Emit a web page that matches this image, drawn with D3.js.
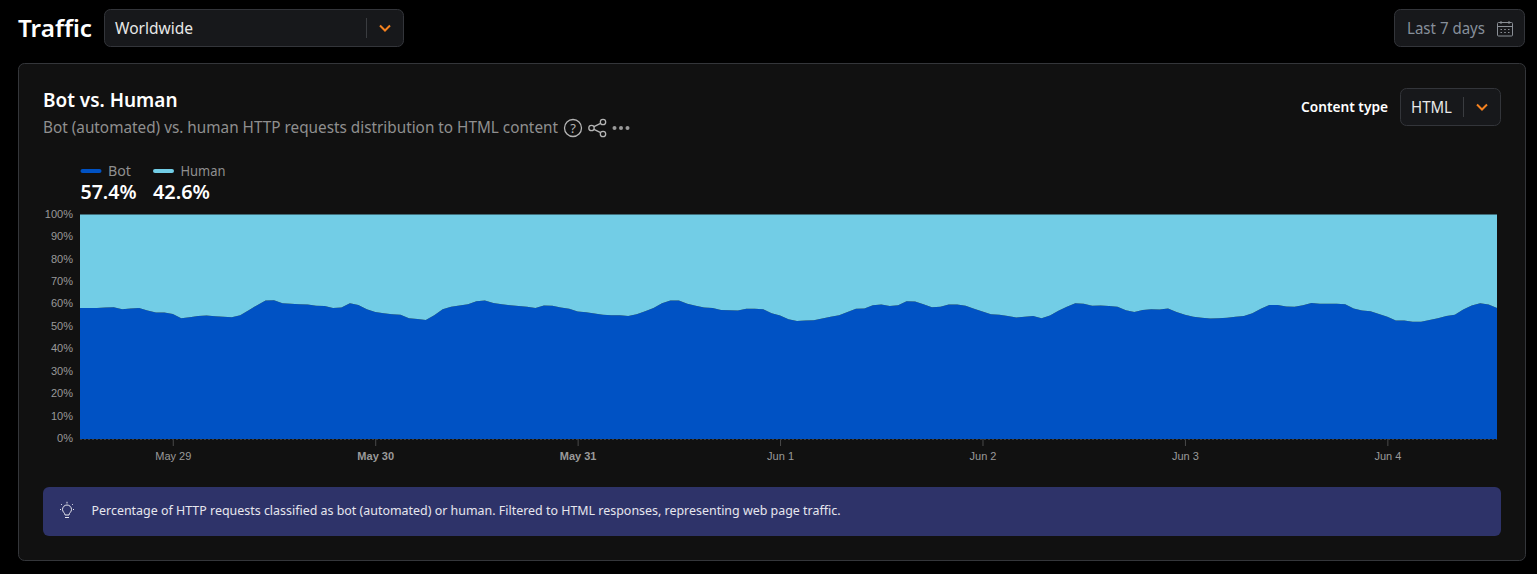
<!DOCTYPE html>
<html>
<head>
<meta charset="utf-8">
<title>Bot vs. Human</title>
<script src="https://cdn.jsdelivr.net/npm/d3@7"></script>
<style>
  html, body { margin: 0; padding: 0; background: #000; overflow: hidden; }
  svg { display: block; font-family: "Noto Sans", sans-serif; }
  .axis text { font-family: "Liberation Sans", Arial, sans-serif; font-size: 11px; fill: #9a9a9a; }
  .axis line { stroke: #4a4a4a; }
  .axis path { display: none; }
</style>
</head>
<body>
<svg id="page" width="1537" height="574"></svg>
<script>
// hourly bot share (%), starts May 28 13:00 UTC
const botShare = [
  58.4, 58.4, 58.4, 58.6, 58.7, 57.8, 58.1, 58.4, 57.2, 56.3, 56.3, 55.7, 53.8, 54.2,
  54.8, 55.0, 54.7, 54.5, 54.2, 55.1, 57.4, 59.6, 61.7, 61.8, 60.5, 60.2, 60.0, 59.9,
  59.3, 59.2, 58.3, 58.6, 60.5, 59.7, 57.8, 56.6, 56.0, 55.6, 55.3, 53.8, 53.5, 53.0,
  55.1, 57.8, 58.9, 59.5, 60.0, 61.4, 61.7, 60.6, 60.0, 59.6, 59.2, 58.9, 58.4, 59.5,
  59.3, 58.6, 58.0, 56.8, 56.5, 55.9, 55.4, 55.1, 55.1, 54.8, 55.6, 56.9, 58.3, 60.5,
  61.7, 61.7, 60.2, 59.3, 58.6, 58.4, 57.5, 57.4, 57.2, 58.0, 58.0, 57.8, 56.0, 55.0,
  53.3, 52.6, 52.8, 52.9, 53.7, 54.4, 55.1, 56.6, 58.0, 58.1, 59.6, 59.9, 59.2, 59.6,
  61.4, 61.2, 60.0, 58.7, 58.9, 59.9, 59.9, 59.3, 58.0, 56.8, 55.6, 55.4, 54.8, 54.1,
  54.4, 54.8, 53.8, 55.0, 57.1, 58.9, 60.5, 60.3, 59.3, 59.5, 59.2, 58.9, 57.4, 56.6,
  57.5, 57.8, 57.7, 58.1, 56.6, 55.4, 54.4, 54.0, 53.7, 53.8, 54.0, 54.5, 54.8, 56.0,
  58.0, 59.7, 59.7, 59.0, 58.9, 59.6, 60.6, 60.3, 60.2, 60.2, 60.0, 58.1, 57.2, 56.9,
  55.7, 54.4, 52.8, 52.8, 52.2, 52.2, 53.0, 53.8, 54.8, 55.4, 57.7, 59.5, 60.5, 59.9,
  58.3
];
const seriesNames = ['Bot', 'Human'];
const seriesTotals = ['57.4%', '42.6%'];
const seriesColors = ['#0052c4', '#72cde6'];
const yTickValues = [0, 10, 20, 30, 40, 50, 60, 70, 80, 90, 100];
const boldDays = ['May 30', 'May 31'];

const startTime = Date.UTC(2025, 4, 28, 13);
const hourMs = 3600000;

const rows = botShare.map((b, i) => ({
  time: new Date(startTime + i * hourMs),
  Bot: b,
  Human: 100 - b
}));

const svg = d3.select('#page');

// text squeezed to a measured width, the page font is not installed here
function label(x, y, str, size, color, weight, width) {
  const t = svg.append('text')
    .attr('x', x).attr('y', y)
    .attr('font-size', size)
    .attr('font-weight', weight || 400)
    .attr('fill', color)
    .text(str);
  if (width) t.attr('textLength', width).attr('lengthAdjust', 'spacingAndGlyphs');
  return t;
}

function box(x, y, w, h, r, fill, stroke) {
  return svg.append('rect')
    .attr('x', x).attr('y', y).attr('width', w).attr('height', h).attr('rx', r)
    .attr('fill', fill).attr('stroke', stroke || 'none');
}

function chevron(cx, cy) {
  svg.append('path')
    .attr('d', `M${cx - 5},${cy - 2.5}L${cx},${cy + 2.5}L${cx + 5},${cy - 2.5}`)
    .attr('fill', 'none').attr('stroke', '#f6821f').attr('stroke-width', 2);
}

// page header
label(18, 37, 'Traffic', 24, '#fff', 600, 74);
box(104.5, 9.5, 299, 37, 6, '#17181b', '#33353a');
label(115, 33.5, 'Worldwide', 16, '#e8e8e8', 400, 78);
svg.append('line').attr('x1', 366.5).attr('x2', 366.5).attr('y1', 18).attr('y2', 38).attr('stroke', '#3a3c40');
chevron(385, 28);

box(1394.5, 9.5, 130, 37, 6, '#17181b', '#33353a');
label(1407, 33.5, 'Last 7 days', 16, '#868f9a', 400, 78);
const cal = svg.append('g').attr('transform', 'translate(1497,21)').attr('fill', 'none').attr('stroke', '#8a8f96');
cal.append('rect').attr('x', 0.5).attr('y', 1.5).attr('width', 15).attr('height', 13.5).attr('rx', 1);
cal.append('path').attr('d', 'M0.5,5.5H15.5M4,0V3M12,0V3M3.5,8.5H5M7.2,8.5H8.8M11,8.5H12.5M3.5,11.5H5M7.2,11.5H8.8M11,11.5H12.5');

// card
box(18.5, 63.5, 1507, 497, 6, '#111111', '#34363a');
label(43, 107, 'Bot vs. Human', 19, '#fff', 600, 134.5);
label(43, 133, 'Bot (automated) vs. human HTTP requests distribution to HTML content', 15.5, '#8f8f8f', 400, 515);

// help, share and more icons
const ic = svg.append('g').attr('fill', 'none').attr('stroke', '#b5b5b5').attr('stroke-width', 1.3);
ic.append('circle').attr('cx', 573).attr('cy', 128).attr('r', 8.5);
label(573, 132.5, '?', 13, '#b5b5b5', 400).attr('text-anchor', 'middle');
ic.append('circle').attr('cx', 591.5).attr('cy', 128).attr('r', 2.7);
ic.append('circle').attr('cx', 603).attr('cy', 122).attr('r', 2.7);
ic.append('circle').attr('cx', 603).attr('cy', 134).attr('r', 2.7);
ic.append('path').attr('d', 'M594,126.6L600.6,123.3M594,129.4L600.6,132.7');
[614.5, 621, 627.5].forEach(cx => svg.append('circle').attr('cx', cx).attr('cy', 128).attr('r', 2).attr('fill', '#9a9a9a'));

// content type select
label(1301, 112, 'Content type', 14, '#fff', 600, 87);
box(1400.5, 88.5, 100, 37, 6, '#17181b', '#33353a');
label(1411, 112.5, 'HTML', 16, '#e8e8e8', 400, 41);
svg.append('line').attr('x1', 1463.5).attr('x2', 1463.5).attr('y1', 97).attr('y2', 117).attr('stroke', '#3a3c40');
chevron(1482, 107);

// legend
const legendX = [80.5, 153];
const legendLabelW = [23, 45];
const legendTotalW = [56, 57];
seriesNames.forEach((name, i) => {
  svg.append('rect')
    .attr('x', legendX[i]).attr('y', 169).attr('width', 21).attr('height', 4).attr('rx', 2)
    .attr('fill', seriesColors[i]);
  label(legendX[i] + 27.5, 176, name, 14, '#8f8f8f', 400, legendLabelW[i]);
  label(legendX[i], 199, seriesTotals[i], 19, '#fff', 600, legendTotalW[i]);
});

// chart
const x = d3.scaleUtc()
  .domain(d3.extent(rows, d => d.time))
  .range([80, 1497]);
const y = d3.scaleLinear().domain([0, 100]).range([439, 214.5]);

const stacked = d3.stack().keys(seriesNames)(rows);
const area = d3.area()
  .x(d => x(d.data.time))
  .y0(d => y(d[0]))
  .y1(d => y(d[1]));

svg.append('g').selectAll('path')
  .data(stacked)
  .join('path')
  .attr('d', area)
  .attr('fill', (d, i) => seriesColors[i]);

const yAxis = d3.axisLeft(y)
  .tickValues(yTickValues)
  .tickSize(0)
  .tickPadding(7)
  .tickFormat(d => d + '%');
const yg = svg.append('g').attr('class', 'axis').attr('transform', 'translate(80,0)').call(yAxis);
yg.selectAll('text').attr('dy', '0.24em');

const fmtDay = d3.utcFormat('%b %-d');
const xAxis = d3.axisBottom(x)
  .ticks(d3.utcDay.every(1))
  .tickSize(7)
  .tickPadding(6.5)
  .tickFormat(fmtDay);
const xg = svg.append('g').attr('class', 'axis').attr('transform', 'translate(0,439)').call(xAxis);
xg.selectAll('text').attr('font-weight', d => boldDays.includes(fmtDay(d)) ? 700 : 400);

svg.append('line')
  .attr('x1', 80).attr('x2', 1497).attr('y1', 439.5).attr('y2', 439.5)
  .attr('stroke', '#3a3a3a').attr('stroke-dasharray', '2,2');

// note banner
box(43, 487, 1458, 49, 6, '#2e3369');
const bulb = svg.append('g').attr('fill', 'none').attr('stroke', '#e6e6ee').attr('stroke-width', 1);
bulb.append('path').attr('d', 'M65,515C65,513 62.5,512 62.5,509.5A4.5,4.5 0 0 1 71.5,509.5C71.5,512 69,513 69,515ZM65,517.5H69');
bulb.append('path').attr('d', 'M67,503.5V501.8M60,509.5H61M73,509.5H74M62,505L61.2,504.2M72,505L72.8,504.2');
label(91.5, 514.5, 'Percentage of HTTP requests classified as bot (automated) or human. Filtered to HTML responses, representing web page traffic.', 13, '#e6e6ee', 400, 749);
</script>
</body>
</html>
